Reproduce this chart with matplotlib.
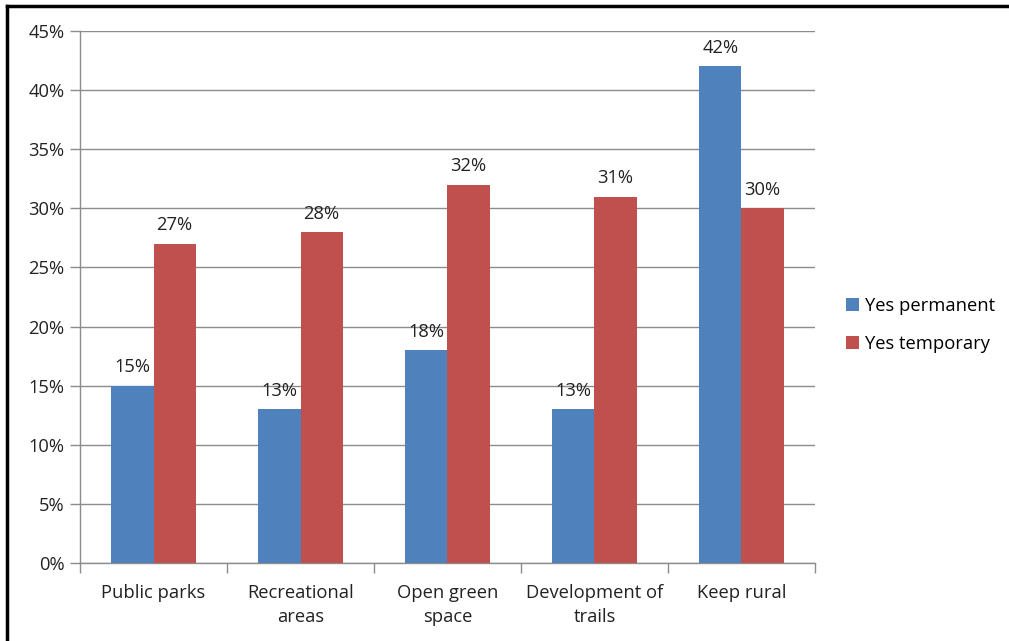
import numpy as np
import matplotlib.pyplot as plt
from matplotlib.lines import Line2D
from matplotlib.ticker import MultipleLocator, FuncFormatter

# chart data
categories = ['Public parks', 'Recreational\nareas', 'Open green\nspace',
              'Development of\ntrails', 'Keep rural']
permanent = [15, 13, 18, 13, 42]
temporary = [27, 28, 32, 31, 30]

blue = '#4F81BD'
red = '#C0504D'
grid_col = '#8C8C8C'
txt = '#222222'
fs = 13.2

plt.rcParams['font.family'] = ['Open Sans', 'DejaVu Sans']

fig = plt.figure(figsize=(10.09, 6.41), dpi=100)
ax = fig.add_axes([0.0793, 0.1217, 0.7284, 0.8299])

x = np.arange(len(categories))
w = 0.286
b1 = ax.bar(x - w / 2, permanent, w, color=blue, label='Yes permanent', zorder=3)
b2 = ax.bar(x + w / 2, temporary, w, color=red, label='Yes temporary', zorder=3)

for bars, vals in ((b1, permanent), (b2, temporary)):
    for bar, v in zip(bars, vals):
        ax.text(bar.get_x() + bar.get_width() / 2, v + 0.8, f'{v}%',
                ha='center', va='bottom', fontsize=fs, color=txt)

ax.set_xlim(-0.5, len(categories) - 0.5)
ax.set_ylim(0, 45)
ax.yaxis.set_major_locator(MultipleLocator(5))
ax.yaxis.set_major_formatter(FuncFormatter(lambda v, p: f'{v:.0f}%'))
ax.grid(axis='y', color=grid_col, linewidth=1, zorder=0)

ax.set_xticks(x)
ax.set_xticklabels(categories, fontsize=fs, color=txt, linespacing=1.45)
ax.tick_params(axis='x', length=0, pad=15)
ax.set_xticks(np.arange(-0.5, len(categories) + 0.5, 1), minor=True)
ax.tick_params(axis='x', which='minor', length=7, color=grid_col, width=1)
ax.tick_params(axis='y', length=7, color=grid_col, width=1, labelsize=fs,
               labelcolor=txt, pad=4)

for s in ('top', 'right'):
    ax.spines[s].set_visible(False)
for s in ('left', 'bottom'):
    ax.spines[s].set_color(grid_col)
    ax.spines[s].set_linewidth(1)

ax.legend(loc='center left', bbox_to_anchor=(1.02, 0.447), frameon=False,
          fontsize=fs, handlelength=0.7, handleheight=0.7, handletextpad=0.3,
          labelspacing=1.1)

# black frame on the left and top
fig.add_artist(Line2D([0.007, 0.007], [0.0, 0.991], color='black', linewidth=2.5))
fig.add_artist(Line2D([0.007, 1.0], [0.991, 0.991], color='black', linewidth=2.5))

fig.savefig('out.png', dpi=100)
